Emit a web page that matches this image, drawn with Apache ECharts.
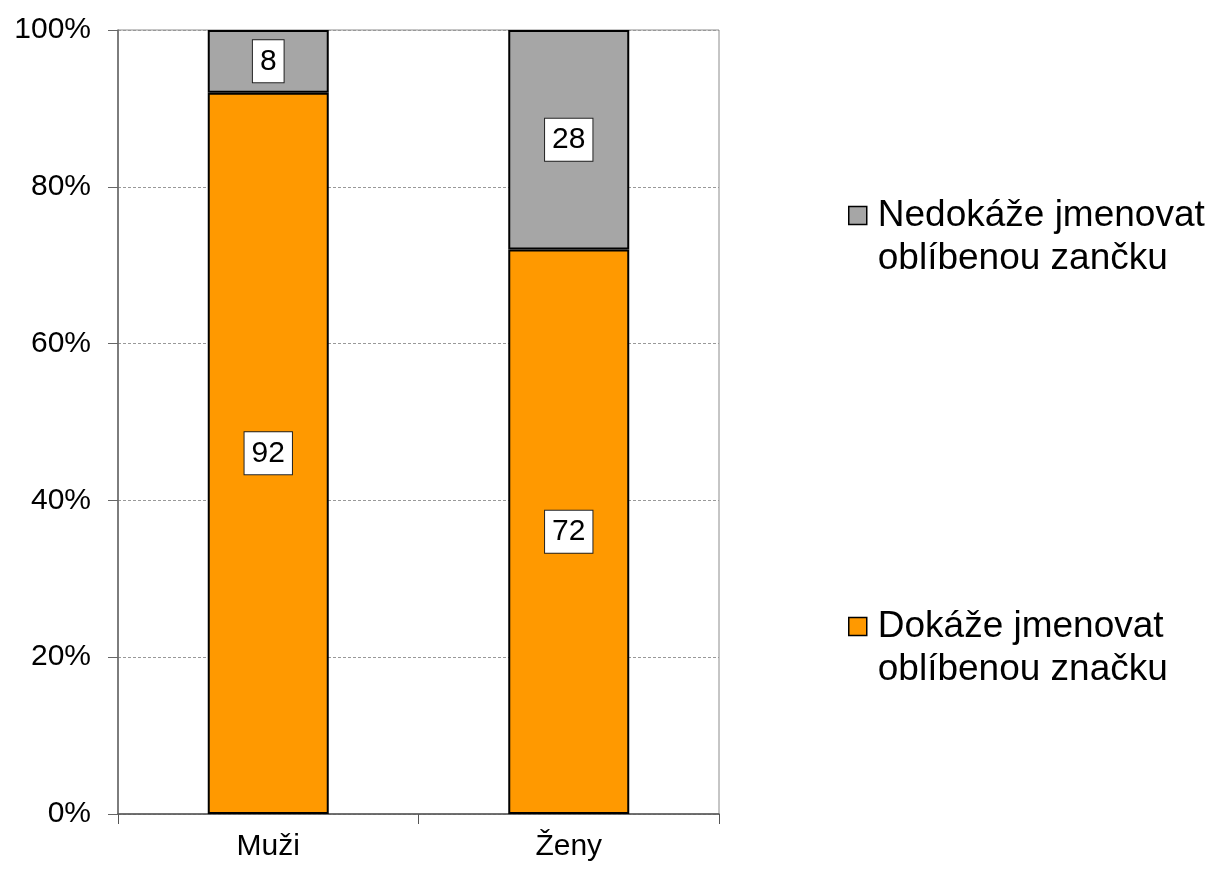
<!DOCTYPE html>
<html>
<head>
<meta charset="utf-8">
<script src="https://cdn.jsdelivr.net/npm/echarts@6/dist/echarts.min.js"></script>
<style>
  html, body { margin: 0; padding: 0; background: #fff; }
  #chart { width: 1214px; height: 870px; }
</style>
</head>
<body>
<div id="chart"></div>
<script>
var categories = ['Muži', 'Ženy']
var canName = [92, 72]
var cannotName = [8, 28]
var seriesNames = ['Dokáže jmenovat\noblíbenou značku', 'Nedokáže jmenovat\noblíbenou zančku']

var font = 'Liberation Sans, Arial, sans-serif'
var chart = echarts.init(document.getElementById('chart'))

var barLabel = {
  show: true,
  position: 'inside',
  color: '#000',
  fontFamily: font,
  fontSize: 30,
  backgroundColor: '#fff',
  borderColor: '#222',
  borderWidth: 1,
  padding: [7, 7, 5, 7]
}

var legendText = {
  color: '#000',
  fontFamily: font,
  fontSize: 37,
  lineHeight: 43,
  padding: [0, 0, 0, 6]
}

// leading empty line keeps the icon level with the first text line
function legendFormat(name) {
  return '\n' + name
}

chart.setOption({
  animation: false,
  grid: {
    left: 118,
    right: 495,
    top: 30,
    bottom: 56,
    show: true,
    borderColor: '#8c8c8c',
    borderWidth: 1
  },
  legend: [
    {
      data: [seriesNames[1]],
      left: 843,
      top: 146,
      icon: 'rect',
      itemWidth: 18,
      itemHeight: 18,
      itemStyle: { borderWidth: 1.5 },
      selectedMode: false,
      formatter: legendFormat,
      textStyle: legendText
    },
    {
      data: [seriesNames[0]],
      left: 843,
      top: 557,
      icon: 'rect',
      itemWidth: 18,
      itemHeight: 18,
      itemStyle: { borderWidth: 1.5 },
      selectedMode: false,
      formatter: legendFormat,
      textStyle: legendText
    }
  ],
  xAxis: {
    type: 'category',
    data: categories,
    axisLine: { lineStyle: { color: '#555', width: 1.5 } },
    axisTick: { show: true, length: 10, lineStyle: { color: '#555' } },
    axisLabel: { color: '#000', fontFamily: font, fontSize: 30, margin: 18 }
  },
  yAxis: {
    type: 'value',
    min: 0,
    max: 100,
    interval: 20,
    axisLine: { show: true, lineStyle: { color: '#666', width: 1.5 } },
    axisTick: { show: true, length: 10, lineStyle: { color: '#666' } },
    axisLabel: { color: '#000', fontFamily: font, fontSize: 30, margin: 27, formatter: '{value}%' },
    splitLine: { show: true, lineStyle: { color: '#999', type: [3, 2], width: 1 } }
  },
  series: [
    {
      name: seriesNames[0],
      type: 'bar',
      stack: 'total',
      barWidth: 121,
      data: canName,
      itemStyle: { color: '#FF9900', borderColor: '#000', borderWidth: 2 },
      label: barLabel
    },
    {
      name: seriesNames[1],
      type: 'bar',
      stack: 'total',
      barWidth: 121,
      data: cannotName,
      itemStyle: { color: '#A6A6A6', borderColor: '#000', borderWidth: 2 },
      label: barLabel
    }
  ]
})
</script>
</body>
</html>
